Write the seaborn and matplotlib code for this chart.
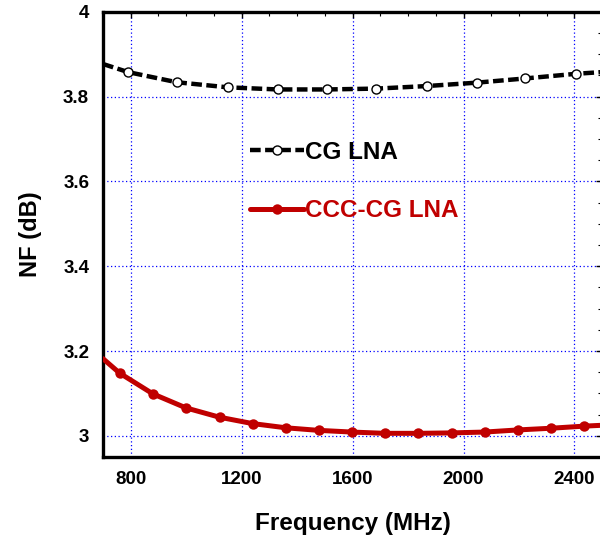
import numpy as np
import pandas as pd
import seaborn as sns
import matplotlib.pyplot as plt
from matplotlib.lines import Line2D
from matplotlib.ticker import MultipleLocator

# CG LNA noise figure (dB) vs frequency (MHz)
cg_freq = [700, 790, 966, 1150, 1330, 1506, 1686, 1867, 2047, 2223, 2407, 2500]
cg_nf = [3.877, 3.858, 3.834, 3.822, 3.817, 3.817, 3.819, 3.825, 3.833, 3.843, 3.854, 3.858]

# CCC-CG LNA noise figure (dB) vs frequency (MHz)
ccc_freq = [700, 760, 880, 999, 1120, 1239, 1360, 1477, 1597, 1716, 1837, 1957,
            2076, 2196, 2315, 2436, 2500]
ccc_nf = [3.182, 3.148, 3.099, 3.066, 3.044, 3.029, 3.019, 3.013, 3.009, 3.006,
          3.006, 3.007, 3.009, 3.014, 3.018, 3.023, 3.025]

x_ticks = [800, 1200, 1600, 2000, 2400]
y_ticks = [3, 3.2, 3.4, 3.6, 3.8, 4]
y_labels = ["3", "3.2", "3.4", "3.6", "3.8", "4"]

red = "#C00000"

sns.set_theme(style="white")
plt.rcParams["font.family"] = ["Liberation Sans", "DejaVu Sans"]
plt.rcParams["font.weight"] = "bold"
plt.rcParams["axes.labelcolor"] = "black"
plt.rcParams["text.color"] = "black"

fig = plt.figure(figsize=(6.0, 5.39), dpi=100)
ax = fig.add_axes([0.1717, 0.152, 0.832, 0.826])

cg = pd.DataFrame({"freq": cg_freq, "nf": cg_nf})
ccc = pd.DataFrame({"freq": ccc_freq, "nf": ccc_nf})

sns.lineplot(data=cg, x="freq", y="nf", ax=ax, color="black", lw=3.2,
             linestyle=(0, (2.4, 1.0)), marker="o", markersize=6.5,
             markerfacecolor="white", markeredgecolor="black", markeredgewidth=1.0,
             markevery=list(range(1, len(cg_freq) - 1)), zorder=4)
sns.lineplot(data=ccc, x="freq", y="nf", ax=ax, color=red, lw=3.6,
             marker="o", markersize=7.5, markeredgewidth=0, markerfacecolor=red,
             markevery=list(range(1, len(ccc_freq) - 1)), zorder=4)

ax.set_xlim(700, 2500)
ax.set_ylim(2.95, 4.0)
ax.set_xticks(x_ticks)
ax.set_yticks(y_ticks)
ax.set_yticklabels(y_labels)
ax.xaxis.set_minor_locator(MultipleLocator(100))
ax.yaxis.set_minor_locator(MultipleLocator(0.05))
ax.tick_params(which="both", direction="in", top=True, right=True,
               labelsize=13.5, colors="black", pad=10)
ax.tick_params(which="major", length=4, width=1)
ax.tick_params(which="minor", length=3, width=0.8)
for lab in ax.get_xticklabels() + ax.get_yticklabels():
    lab.set_fontweight("bold")

ax.grid(True, which="major", color="#0000FF", linestyle=(0, (1, 2)), lw=0.9)
for s in ax.spines.values():
    s.set_color("black")
    s.set_linewidth(2.4)

ax.set_xlabel("Frequency (MHz)", fontsize=17.5, fontweight="bold", labelpad=17,
              color="black")
ax.set_ylabel("NF (dB)", fontsize=17, fontweight="bold", labelpad=15,
              color="black")

handles = [
    Line2D([], [], color="black", lw=3.2, linestyle=(0, (2.4, 1.0)), marker="o",
           markersize=6.5, markerfacecolor="white", markeredgecolor="black",
           markeredgewidth=1.0),
    Line2D([], [], color=red, lw=3.6, marker="o", markersize=7.5,
           markerfacecolor=red, markeredgewidth=0),
]
ax.legend(handles, ["CG LNA", "CCC-CG LNA"], loc="upper left",
          bbox_to_anchor=(0.397, 0.761), bbox_transform=fig.transFigure,
          frameon=False, borderpad=0, handlelength=2.2, handletextpad=0.05,
          labelspacing=1.45, prop={"size": 17.5, "weight": "bold"},
          labelcolor="linecolor")

fig.savefig("out.png", dpi=100)
